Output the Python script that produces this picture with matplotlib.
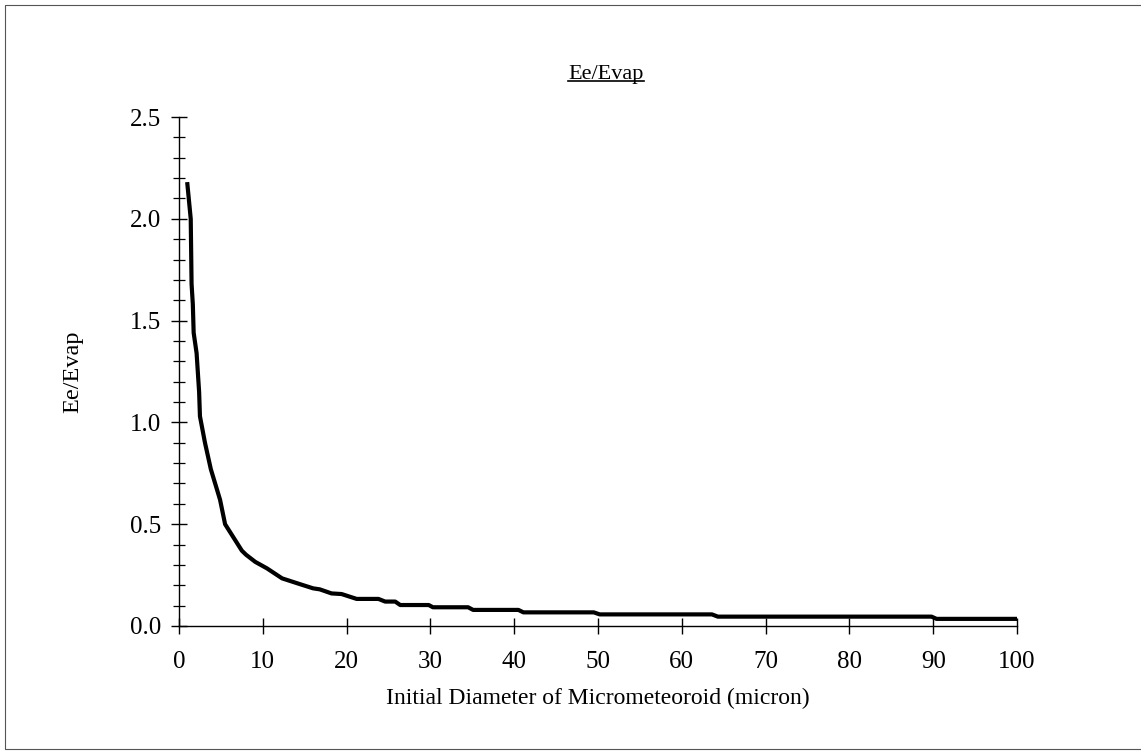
import matplotlib

matplotlib.use("Agg")
import matplotlib.pyplot as plt
from matplotlib.lines import Line2D
from matplotlib.ticker import MultipleLocator

# curve (diameter in micron, Ee/Evap)
diameter = [1.0, 1.4, 1.5, 1.65, 1.75, 2.1, 2.4, 2.5, 3.1, 3.8, 4.9, 5.5,
            7.5, 8.0, 9.1, 10.5, 12.3, 14.4, 16.0, 16.8, 18.2, 19.4, 21.2,
            23.8, 24.6, 25.8, 26.4, 29.8, 30.3, 34.5, 35.1, 40.5, 41.1,
            49.5, 50.2, 63.6, 64.3, 89.8, 90.4, 100.0]
ratio = [2.17, 2.00, 1.68, 1.58, 1.44, 1.34, 1.15, 1.03, 0.90, 0.77, 0.62, 0.50,
         0.37, 0.35, 0.315, 0.283, 0.234, 0.206, 0.185, 0.180, 0.160, 0.157, 0.133,
         0.133, 0.120, 0.120, 0.103, 0.103, 0.092, 0.092, 0.079, 0.079, 0.067,
         0.067, 0.057, 0.057, 0.046, 0.046, 0.035, 0.035]

x_ticks = list(range(0, 101, 10))
y_ticks = [0.0, 0.5, 1.0, 1.5, 2.0, 2.5]

plt.rcParams["font.family"] = ["Liberation Serif", "DejaVu Serif"]

W, H = 1141, 751
fig = plt.figure(figsize=(W / 100, H / 100), dpi=100)
ax = fig.add_axes([179 / W, 1 - 626 / H, (1017 - 179) / W, (626 - 117) / H])

ax.plot(diameter, ratio, color="black", lw=3.0, solid_joinstyle="round")

ax.set_xlim(0, 100)
ax.set_ylim(0, 2.5)
ax.set_xticks(x_ticks)
ax.set_yticks(y_ticks)
ax.set_yticklabels([f"{v:.1f}" for v in y_ticks])
ax.yaxis.set_minor_locator(MultipleLocator(0.1))

for side in ("top", "right"):
    ax.spines[side].set_visible(False)
for side in ("left", "bottom"):
    ax.spines[side].set_linewidth(1.0)

ax.tick_params(axis="y", which="major", direction="inout", length=11.5, width=1.0,
               pad=7, labelsize=18)
ax.tick_params(axis="y", which="minor", direction="inout", length=8, width=0.9)
ax.tick_params(axis="x", which="major", direction="inout", length=12, width=1.0,
               pad=12, labelsize=18)

ax.set_xlabel("Initial Diameter of Micrometeoroid (micron)", fontsize=17, labelpad=11)
ax.set_ylabel("Ee/Evap", fontsize=17.5, labelpad=34)

title = fig.text(606 / W, 1 - 75 / H, "Ee/Evap", fontsize=16, ha="center", va="center")

# thin frame: top, left and bottom edges (right edge runs off the page)
frame_x = [1.0, 5 / W, 5 / W, 1.0]
frame_y = [1 - 5 / H, 1 - 5 / H, 2 / H, 2 / H]
fig.add_artist(Line2D(frame_x, frame_y, transform=fig.transFigure,
                      color="#555555", lw=0.8))

# underline the title
fig.canvas.draw()
bb = title.get_window_extent().transformed(fig.transFigure.inverted())
fig.add_artist(Line2D([bb.x0, bb.x1], [bb.y0 + 0.004, bb.y0 + 0.004],
                      transform=fig.transFigure, color="black", lw=1.2))

fig.savefig("out.png", dpi=100)
